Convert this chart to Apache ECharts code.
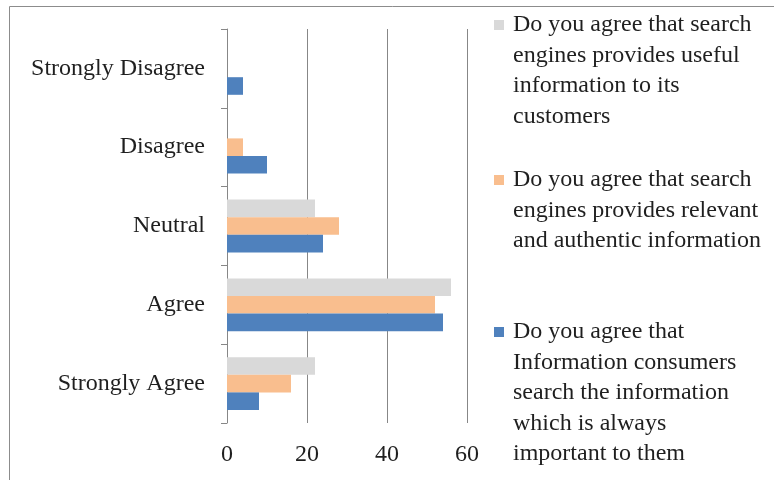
<!DOCTYPE html>
<html>
<head>
<meta charset="utf-8">
<script src="https://cdn.jsdelivr.net/npm/echarts@6/dist/echarts.min.js"></script>
<style>
  html, body { margin: 0; padding: 0; background: #fff; }
  #chart { width: 774px; height: 480px; }
</style>
</head>
<body>
<div id="chart"></div>
<script>
// categories, bottom to top (category axis runs upward)
let categories = ['Strongly Agree', 'Agree', 'Neutral', 'Disagree', 'Strongly Disagree']

let nameUseful = 'Do you agree that search engines provides useful information to its customers'
let nameRelevant = 'Do you agree that search engines provides relevant and authentic information'
let nameConsumers = 'Do you agree that Information consumers search the information which is always important to them'

let useful = [22, 56, 22, 0, 0]
let relevant = [16, 52, 28, 4, 0]
let consumers = [8, 54, 24, 10, 4]

let xTicks = [0, 20, 40, 60]

// legend text broken into lines like the original
let legendLines = {}
legendLines[nameUseful] = ['Do you agree that search', 'engines provides useful', 'information to its', 'customers']
legendLines[nameRelevant] = ['Do you agree that search', 'engines provides relevant', 'and authentic information']
legendLines[nameConsumers] = ['Do you agree that', 'Information consumers', 'search the information', 'which is always', 'important to them']

let font = '"Liberation Serif", "Times New Roman", serif'
let fs = 24
let lh = 30.5

// icon sits on the first line: pad with empty lines above so line 1 is the middle one
function legendFor(name, firstLineY) {
    let n = legendLines[name].length
    return {
        data: [name],
        orient: 'vertical',
        left: 494,
        top: firstLineY - (2 * n - 1) * lh / 2,
        padding: 0,
        itemWidth: 10,
        itemHeight: 10,
        itemGap: 0,
        icon: 'rect',
        selectedMode: false,
        formatter: function (nm) {
            let ls = legendLines[nm]
            return '\n'.repeat(ls.length - 1) + ls.join('\n')
        },
        textStyle: {
            fontFamily: font,
            fontSize: fs,
            color: '#1f1f1f',
            lineHeight: lh,
            padding: [0, 0, 0, 4]
        }
    }
}

var myChart = echarts.init(document.getElementById('chart'))
var option = {
    animation: false,
    backgroundColor: '#fff',
    graphic: [{
        type: 'rect',
        shape: { x: 9.5, y: 6.5, width: 800, height: 500 },
        style: { fill: 'none', stroke: '#8c8c8c', lineWidth: 1 },
        silent: true
    }],
    grid: { left: 227, top: 29, width: 240, height: 394 },
    legend: [
        legendFor(nameUseful, 25),
        legendFor(nameRelevant, 180),
        legendFor(nameConsumers, 332)
    ],
    xAxis: {
        type: 'value',
        min: 0,
        max: 60,
        interval: 20,
        axisLine: { show: false },
        axisTick: { show: false },
        splitLine: { show: true, lineStyle: { color: '#878787', width: 1 } },
        axisLabel: {
            margin: 20,
            fontFamily: font,
            fontSize: fs,
            color: '#1f1f1f',
            formatter: function (v) { return xTicks.indexOf(v) >= 0 ? String(v) : '' }
        }
    },
    yAxis: {
        type: 'category',
        data: categories,
        axisLine: { show: true, lineStyle: { color: '#878787', width: 1 } },
        axisTick: { show: true, length: 6, lineStyle: { color: '#878787' } },
        axisLabel: {
            margin: 22,
            fontFamily: font,
            fontSize: fs,
            color: '#1f1f1f'
        }
    },
    series: [
        {
            name: nameUseful,
            type: 'bar',
            data: useful,
            itemStyle: { color: '#d9d9d9' },
            barGap: '0%',
            barCategoryGap: '33%'
        }, {
            name: nameRelevant,
            type: 'bar',
            data: relevant,
            itemStyle: { color: '#f9be8e' },
            barGap: '0%',
            barCategoryGap: '33%'
        }, {
            name: nameConsumers,
            type: 'bar',
            data: consumers,
            itemStyle: { color: '#4f81bd' },
            barGap: '0%',
            barCategoryGap: '33%'
        }
    ]
}
myChart.setOption(option)
</script>
</body>
</html>
